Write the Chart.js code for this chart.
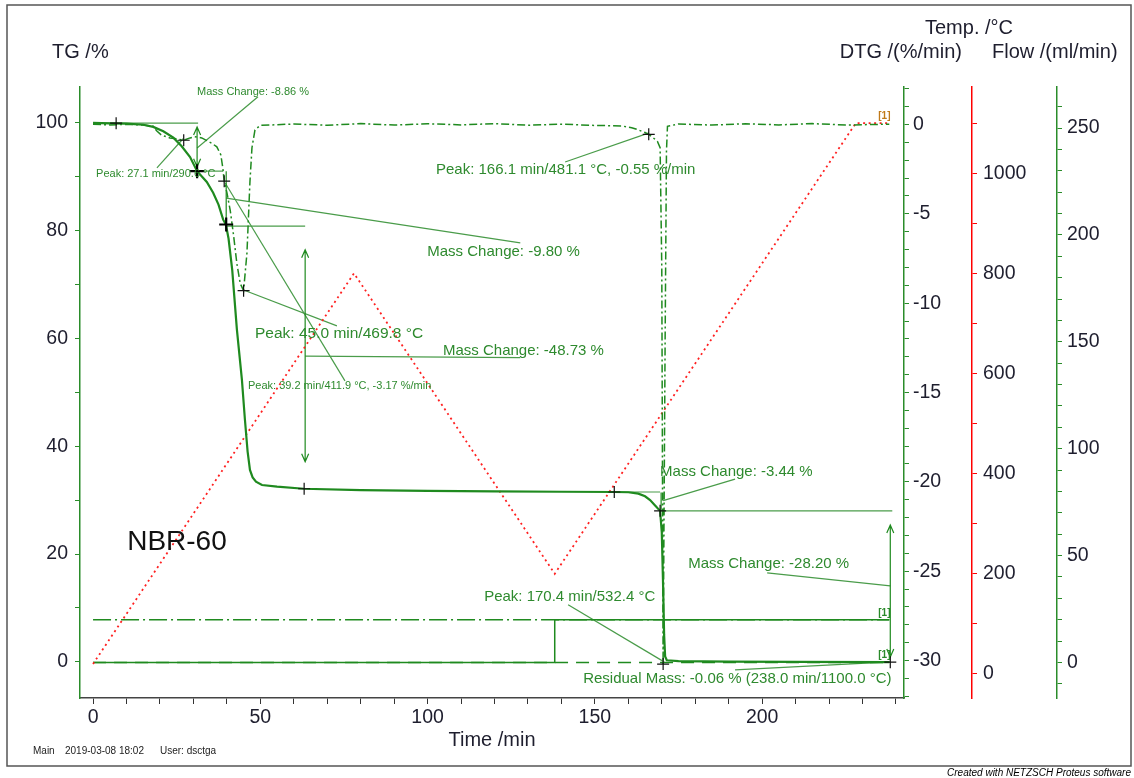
<!DOCTYPE html>
<html>
<head>
<meta charset="utf-8">
<script src="https://cdn.jsdelivr.net/npm/chart.js@4.4.1/dist/chart.umd.min.js"></script>
<style>
  html, body { margin: 0; padding: 0; background: #fff; }
  canvas { display: block; }
</style>
</head>
<body>
<canvas id="tgaChart" width="1134" height="778"></canvas>
<script>
// --- measured data (time in min) ---
const tgTime = [0, 5, 10, 15, 18, 21, 24, 26.5, 29, 31.1, 34, 35.9, 37.5, 38.9, 39.7, 40.5, 41.6, 43, 44.5, 45.4, 46.2, 46.9, 47.7, 48.7, 50.5, 55, 63, 80, 100, 120, 140, 155.8, 160, 163, 165, 166.5, 168, 169.5, 170.0, 170.4, 170.7, 171.0, 171.5, 175, 190, 210, 238];
const tgMass = [99.95, 99.85, 99.8, 99.6, 99.2, 98.4, 97.2, 95.6, 93.6, 91.0, 89.0, 87.0, 84.8, 82.0, 81.1, 78.5, 72.7, 61.6, 52.3, 44.9, 39.0, 35.6, 34.2, 33.4, 32.8, 32.5, 32.1, 31.85, 31.7, 31.6, 31.55, 31.5, 31.45, 31.2, 30.7, 30.0, 29.0, 28.0, 24, 14, 5, 1.0, 0.3, 0.15, 0.05, 0.0, -0.06];

const dtgTime = [0, 5, 10, 15, 18, 19, 20.5, 23, 25, 27.1, 29, 30.4, 32.5, 34, 35.5, 37, 38.2, 38.8, 39.2, 40, 41, 42, 43, 44, 45, 46, 46.9, 47.5, 48.4, 50, 60, 70, 80, 90, 100, 110, 120, 130, 140, 150, 158, 161, 163, 165, 166.1, 167.5, 168.7, 169.5, 170.0, 170.4, 171.0, 171.4, 171.7, 175, 185, 195, 205, 215, 225, 238];
const dtgRate = [0.02, -0.02, 0.01, -0.03, -0.1, -0.35, -0.6, -0.75, -0.8, -0.88, -0.75, -0.68, -0.75, -0.9, -1.05, -1.25, -1.7, -2.45, -3.17, -3.8, -4.8, -6.2, -7.8, -8.9, -9.3, -7.2, -3.2, -1.3, -0.3, -0.05, 0.03, -0.04, 0.05, -0.03, 0.04, -0.02, 0.05, -0.04, 0.02, -0.05, -0.08, -0.18, -0.3, -0.45, -0.55, -0.75, -0.95, -1.3, -8.0, -30.2, -12.0, -1.5, -0.1, 0.03, -0.03, 0.04, -0.02, 0.05, -0.03, 0.02];

const tempTime = [0, 78, 138, 228, 238];
const tempValue = [20, 800, 200, 1100, 1100];

const purgeTime = [0, 238];
const purgeFlow = [20, 20];
const purge2Time = [0, 138, 138, 238];
const purge2Flow = [0, 0, 20, 20];
const protTime = [0, 238];
const protFlow = [0, 0];

// marked points
const tgMarkTime = [6.9, 63.1, 155.8, 169.5, 238.3];
const tgMarkMass = [99.9, 32.1, 31.5, 28.0, -0.06];
const tgBoldTime = [31.1, 39.8];
const tgBoldMass = [91.0, 81.1];
const dtgMarkTime = [27.1, 39.2, 45.0, 166.1, 170.4];
const dtgMarkRate = [-0.88, -3.17, -9.3, -0.55, -30.2];

// tick values
const timeTicks = [0, 10, 20, 30, 40, 50, 60, 70, 80, 90, 100, 110, 120, 130, 140, 150, 160, 170, 180, 190, 200, 210, 220, 230, 240];
const tgTicks = [0, 10, 20, 30, 40, 50, 60, 70, 80, 90, 100];
const dtgTicks = [-32, -31, -30, -29, -28, -27, -26, -25, -24, -23, -22, -21, -20, -19, -18, -17, -16, -15, -14, -13, -12, -11, -10, -9, -8, -7, -6, -5, -4, -3, -2, -1, 0, 1, 2];
const tempTicks = [0, 100, 200, 300, 400, 500, 600, 700, 800, 900, 1000, 1100];
const flowTicks = [-10, 0, 10, 20, 30, 40, 50, 60, 70, 80, 90, 100, 110, 120, 130, 140, 150, 160, 170, 180, 190, 200, 210, 220, 230, 240, 250, 260];

// evaluation marks in (time, TG %)
const stepLines = [
  [0, 99.9, 31.4, 99.9],
  [31.1, 91.0, 38.9, 91.0],
  [39.8, 80.8, 63.4, 80.8],
  [155.8, 31.5, 169.5, 31.5],
  [169.8, 28.0, 238.9, 28.0]
];
const stepArrows = [
  [31.1, 99.2, 91.8, true],
  [39.8, 91.0, 81.2, false],
  [63.4, 76.4, 37.1, true],
  [169.8, 31.4, 28.0, false],
  [238.3, 25.4, 0.9, true]
];
const leaderLines = [
  [49.3, 104.8, 31.1, 95.3],
  [19.1, 91.6, 26.9, 97.0],
  [39.8, 86.0, 127.7, 77.7],
  [44.8, 69.0, 72.9, 62.3],
  [39.5, 88.8, 75.3, 52.1],
  [63.4, 56.7, 127.7, 56.4],
  [141.1, 92.7, 166.2, 98.1],
  [170.4, 29.9, 191.9, 33.9],
  [238.3, 14.1, 201.5, 16.5],
  [142.0, 10.6, 170.7, 0.0],
  [191.9, -1.5, 238.3, 0.0]
];
const notes = [
  ['Mass Change: -8.86 %', 31.1, 105.7, 11],
  ['Peak: 27.1 min/290.6 °C', 0.9, 90.5, 11],
  ['Peak: 166.1 min/481.1 °C, -0.55 %/min', 102.5, 91.2, 15],
  ['Mass Change: -9.80 %', 99.9, 76.0, 15],
  ['Peak: 45.0 min/469.8 °C', 48.4, 60.8, 15.5],
  ['Mass Change: -48.73 %', 104.6, 57.7, 15],
  ['Peak: 39.2 min/411.9 °C, -3.17 %/min', 46.3, 51.2, 11],
  ['Mass Change: -3.44 %', 169.5, 35.2, 15],
  ['Mass Change: -28.20 %', 177.9, 18.2, 15],
  ['Peak: 170.4 min/532.4 °C', 116.9, 12.1, 15],
  ['Residual Mass: -0.06 % (238.0 min/1100.0 °C)', 146.5, -3.2, 15]
];
const curveTags = [[234.7, 101.1, '#c07a1a'], [234.7, 9.1, '#2a8a2a'], [234.7, 1.3, '#2a8a2a']];

const GREEN = '#1f8a1f';
const AXIS_GREEN = '#2a8c2a';
const NOTE_GREEN = '#2e8a2e';
const LEADER = '#4a9c4a';
const LABEL = '#1e1e2e';
const FONT = '"Liberation Sans", Arial, sans-serif';

const toXY = (xs, ys) => xs.map((x, i) => ({ x: x, y: ys[i] }));

function fixedTicks(list) {
    return s => { s.ticks = list.map(v => ({ value: v })); };
}

function rightAxis(min, max, list, every, color, width, pad, weight) {
    return {
        type: 'linear', position: 'right', min: min, max: max, weight: weight,
        afterBuildTicks: fixedTicks(list),
        afterFit: s => { s.width = width; },
        grid: { drawOnChartArea: false, tickLength: 5, color: color },
        border: { color: color, width: 1.5 },
        ticks: { padding: pad, color: LABEL, autoSkip: false, font: { size: 19.5, family: FONT },
                 callback: v => (v % every === 0 ? String(v) : '') }
    };
}

const notePlugin = {
    id: 'notes',
    beforeDatasetsDraw(chart) {
        const { ctx, scales: { x, y } } = chart;
        const px = t => x.getPixelForValue(t);
        const py = v => y.getPixelForValue(v);
        ctx.save();
        ctx.strokeStyle = LEADER;
        ctx.lineWidth = 1.2;
        stepLines.concat(leaderLines).forEach(([t1, v1, t2, v2]) => {
            ctx.beginPath();
            ctx.moveTo(px(t1), py(v1));
            ctx.lineTo(px(t2), py(v2));
            ctx.stroke();
        });
        ctx.strokeStyle = GREEN;
        stepArrows.forEach(([t, top, bottom, heads]) => {
            const ax = px(t), y1 = py(top), y2 = py(bottom);
            ctx.beginPath();
            ctx.moveTo(ax, y1);
            ctx.lineTo(ax, y2);
            if (heads) {
                ctx.moveTo(ax - 3.5, y1 + 8); ctx.lineTo(ax, y1); ctx.lineTo(ax + 3.5, y1 + 8);
                ctx.moveTo(ax - 3.5, y2 - 8); ctx.lineTo(ax, y2); ctx.lineTo(ax + 3.5, y2 - 8);
            }
            ctx.stroke();
        });
        ctx.restore();
    },
    afterDatasetsDraw(chart) {
        const { ctx, scales: { x, y } } = chart;
        ctx.save();
        ctx.textBaseline = 'middle';
        ctx.textAlign = 'left';
        ctx.fillStyle = NOTE_GREEN;
        notes.forEach(([text, t, v, size]) => {
            ctx.font = size + 'px ' + FONT;
            ctx.fillText(text, x.getPixelForValue(t), y.getPixelForValue(v));
        });
        ctx.font = 'bold 10px ' + FONT;
        curveTags.forEach(([t, v, c]) => {
            ctx.fillStyle = c;
            ctx.fillText('[1]', x.getPixelForValue(t), y.getPixelForValue(v));
        });
        ctx.fillStyle = '#111';
        ctx.font = '28px ' + FONT;
        ctx.fillText('NBR-60', x.getPixelForValue(10.2), y.getPixelForValue(22.1));
        ctx.restore();
    },
    afterDraw(chart) {
        const { ctx, chartArea } = chart;
        ctx.save();
        ctx.fillStyle = LABEL;
        ctx.textBaseline = 'middle';
        ctx.font = '20px ' + FONT;
        ctx.textAlign = 'left';
        ctx.fillText('TG /%', 52, 52);
        ctx.fillText('Temp. /°C', 925, 28);
        ctx.fillText('Flow /(ml/min)', 992, 52);
        ctx.textAlign = 'right';
        ctx.fillText('DTG /(%/min)', 962, 52);
        ctx.textAlign = 'center';
        ctx.fillText('Time /min', (chartArea.left + chartArea.right) / 2, 740);
        ctx.textAlign = 'left';
        ctx.font = '10px ' + FONT;
        ctx.fillStyle = '#222';
        ctx.fillText('Main', 33, 751);
        ctx.fillText('2019-03-08 18:02', 65, 751);
        ctx.fillText('User: dsctga', 160, 751);
        ctx.textAlign = 'right';
        ctx.font = 'italic 10px ' + FONT;
        ctx.fillStyle = '#000';
        ctx.fillText('Created with NETZSCH Proteus software', 1131, 773);
        ctx.strokeStyle = '#555';
        ctx.lineWidth = 1.5;
        ctx.strokeRect(7, 5, 1124, 761);
        ctx.restore();
    }
};

const ctx = document.getElementById('tgaChart').getContext('2d');
new Chart(ctx, {
    type: 'line',
    data: {
        datasets: [
            { data: toXY(tgBoldTime, tgBoldMass), yAxisID: 'y', showLine: false, pointStyle: 'cross', pointRadius: 7, pointBorderColor: '#000', pointBorderWidth: 2.2 },
            { data: toXY(tgMarkTime, tgMarkMass), yAxisID: 'y', showLine: false, pointStyle: 'cross', pointRadius: 6, pointBorderColor: '#111', pointBorderWidth: 1.2 },
            { data: toXY(dtgMarkTime, dtgMarkRate), yAxisID: 'dtg', showLine: false, pointStyle: 'cross', pointRadius: 6, pointBorderColor: '#111', pointBorderWidth: 1.2 },
            { label: 'TG', data: toXY(tgTime, tgMass), yAxisID: 'y', borderColor: GREEN, borderWidth: 2.2, pointRadius: 0 },
            { label: 'DTG', data: toXY(dtgTime, dtgRate), yAxisID: 'dtg', borderColor: GREEN, borderWidth: 1.5, borderDash: [8, 3, 2, 3], pointRadius: 0 },
            { label: 'Temp', data: toXY(tempTime, tempValue), yAxisID: 'temp', borderColor: '#ff2020', borderWidth: 1.8, borderDash: [2, 3.5], pointRadius: 0 },
            { label: 'Flow 2', data: toXY(purge2Time, purge2Flow), yAxisID: 'flow', borderColor: GREEN, borderWidth: 1.5, pointRadius: 0 },
            { label: 'Flow 1', data: toXY(purgeTime, purgeFlow), yAxisID: 'flow', borderColor: GREEN, borderWidth: 1.5, borderDash: [18, 4, 2, 4], pointRadius: 0 },
            { label: 'Protective', data: toXY(protTime, protFlow), yAxisID: 'flow', borderColor: GREEN, borderWidth: 1.5, borderDash: [13, 8], pointRadius: 0 }
        ]
    },
    options: {
        responsive: false,
        animation: false,
        devicePixelRatio: 1,
        events: [],
        elements: { line: { tension: 0 } },
        layout: { padding: { left: 0, right: 3, top: 87, bottom: 0 } },
        plugins: { legend: { display: false }, tooltip: { enabled: false } },
        scales: {
            x: {
                type: 'linear', min: -3.9, max: 242.4,
                afterBuildTicks: fixedTicks(timeTicks),
                afterFit: s => { s.height = 80; },
                grid: { drawOnChartArea: false, tickLength: 6, color: '#333' },
                border: { color: '#444', width: 1.5 },
                ticks: { padding: 2, color: LABEL, autoSkip: false, maxRotation: 0, font: { size: 19.5, family: FONT },
                         callback: v => (v % 50 === 0 ? String(v) : '') }
            },
            y: {
                type: 'linear', position: 'left', min: -6.7, max: 106.6,
                afterBuildTicks: fixedTicks(tgTicks),
                afterFit: s => { s.width = 80; },
                grid: { drawOnChartArea: false, tickLength: 5, color: AXIS_GREEN },
                border: { color: AXIS_GREEN, width: 1.5 },
                ticks: { padding: 7, color: LABEL, autoSkip: false, font: { size: 19.5, family: FONT },
                         callback: v => (v % 20 === 0 ? String(v) : '') }
            },
            dtg: rightAxis(-32.1, 2.1, dtgTicks, 5, AXIS_GREEN, 68, 4, 1),
            temp: rightAxis(-48, 1172, tempTicks, 200, '#ff0000', 85, 6, 2),
            flow: rightAxis(-16.6, 269.2, flowTicks, 50, AXIS_GREEN, 74, 5, 3)
        }
    },
    plugins: [notePlugin]
});
</script>
</body>
</html>
